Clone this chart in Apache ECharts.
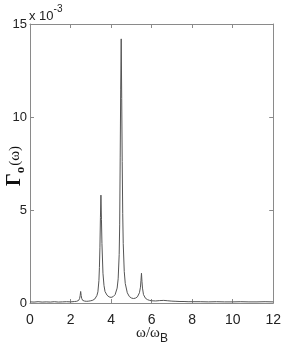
<!DOCTYPE html>
<html><head><meta charset="utf-8">
<script src="https://cdn.jsdelivr.net/npm/echarts@6/dist/echarts.min.js"></script>
<style>html,body{margin:0;padding:0;background:#fff}#c{width:284px;height:354px}</style>
</head><body><div id="c"></div>
<script>
// omega / omega_B
var omega = [0,0.2,0.4,0.6,0.8,1.0,1.2,1.4,1.6,1.8,2.0,2.2,2.3,2.4,2.45,2.475,2.5,2.525,2.55,2.6,2.7,2.8,2.9,3.0,3.1,3.2,3.3,3.35,3.4,3.425,3.45,3.475,3.5,3.525,3.55,3.6,3.65,3.7,3.8,3.9,4.0,4.1,4.2,4.3,4.35,4.4,4.425,4.45,4.475,4.5,4.525,4.55,4.575,4.6,4.65,4.7,4.8,4.9,5.0,5.1,5.2,5.3,5.4,5.45,5.475,5.5,5.525,5.55,5.6,5.7,5.8,5.9,6.0,6.2,6.4,6.6,6.8,7.0,7.2,7.4,7.6,7.8,8.0,8.4,8.8,9.2,9.6,10.0,10.4,10.8,11.2,11.6,12.0];
// Gamma_0(omega) in units of 1e-3
var gamma = [0.06,0.05,0.07,0.05,0.06,0.05,0.07,0.05,0.06,0.07,0.06,0.08,0.09,0.14,0.25,0.4,0.62,0.4,0.25,0.14,0.1,0.09,0.1,0.12,0.15,0.22,0.4,0.6,1.2,1.9,3.0,4.6,5.8,4.5,3.2,1.6,0.95,0.62,0.42,0.33,0.3,0.34,0.45,0.8,1.3,2.6,4.2,7.8,11.5,14.2,11.0,7.6,4.8,3.2,1.7,1.05,0.55,0.35,0.27,0.24,0.26,0.33,0.55,0.85,1.2,1.6,1.15,0.8,0.45,0.25,0.18,0.14,0.12,0.11,0.13,0.14,0.12,0.1,0.09,0.08,0.08,0.07,0.07,0.07,0.06,0.07,0.06,0.06,0.07,0.06,0.06,0.07,0.06];
var xTicks = [0,2,4,6,8,10,12];
var yTicks = [0,5,10,15];

var chart = echarts.init(document.getElementById('c'), null, {renderer:'canvas'});
var axisCol = '#8a8a8a';
var lblFont = {color:'#222', fontSize:14, fontFamily:'Liberation Sans, Arial, sans-serif'};
var pts = omega.map(function(x,i){return [x, gamma[i]];});
function xa(pos, show){
  return {type:'value', position:pos, min:xTicks[0], max:xTicks[xTicks.length-1], interval:2,
    axisLine:{show:true,onZero:false,lineStyle:{color:axisCol,width:1}},
    axisTick:{show:true,inside:true,length:4,lineStyle:{color:axisCol}},
    axisLabel:Object.assign({show:show, margin:10}, lblFont),
    splitLine:{show:false}};
}
function ya(pos, show){
  return {type:'value', position:pos, min:yTicks[0], max:yTicks[yTicks.length-1], interval:5,
    axisLine:{show:true,onZero:false,lineStyle:{color:axisCol,width:1}},
    axisTick:{show:true,inside:true,length:4,lineStyle:{color:axisCol}},
    axisLabel:Object.assign({show:show, margin:3}, lblFont, {fontSize:13}),
    splitLine:{show:false}};
}
chart.setOption({
  animation:false,
  grid:{left:30, right:9, top:24, bottom:51, containLabel:false},
  xAxis:[xa('bottom',true), xa('top',false)],
  yAxis:[ya('left',true), ya('right',false)],
  series:[{type:'line', data:pts, xAxisIndex:0, yAxisIndex:0, showSymbol:false, smooth:false,
    lineStyle:{color:'#555', width:1}}],
  graphic:[
    {type:'text', left:29, top:4, style:{
      text:'{a|x 10}{b|-3}', rich:{
        a:{fontSize:13, fontFamily:'Liberation Sans, Arial, sans-serif', fill:'#222', verticalAlign:'bottom', padding:[6,0,0,0]},
        b:{fontSize:10, fontFamily:'Liberation Sans, Arial, sans-serif', fill:'#222', verticalAlign:'top', padding:[0,0,6,0]}}}},
    {type:'text', x:15, y:166, rotation:Math.PI/2, style:{
      text:'{g|Γ}{o|o}{p|(ω)}', align:'center', verticalAlign:'middle', rich:{
        g:{fontSize:20, fontWeight:'bold', fontFamily:'Liberation Serif, Times New Roman, serif', fill:'#111'},
        o:{fontSize:13, fontWeight:'bold', fontFamily:'Liberation Serif, serif', fill:'#111', padding:[12,1,0,0]},
        p:{fontSize:15, fontFamily:'Liberation Serif, serif', fill:'#111'}}}},
    {type:'text', x:152, y:333, style:{
      text:'{w|ω/ω}{b|B}', align:'center', verticalAlign:'middle', rich:{
        w:{fontSize:15, fontFamily:'Liberation Serif, Times New Roman, serif', fill:'#222'},
        b:{fontSize:12, fontFamily:'Liberation Sans, Arial, sans-serif', fill:'#222', padding:[12,0,0,0]}}}}
  ]
});
</script></body></html>
